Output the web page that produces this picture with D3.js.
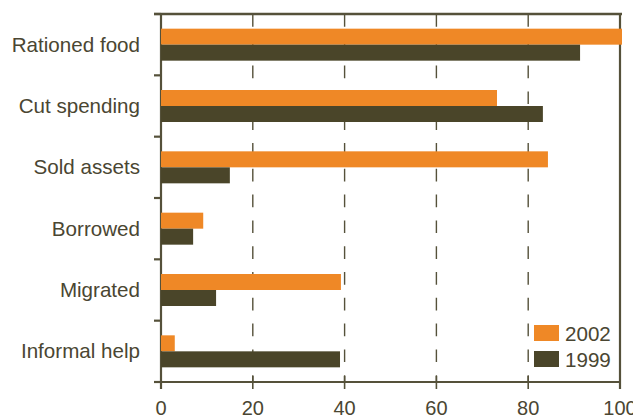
<!DOCTYPE html>
<html><head><meta charset="utf-8">
<script src="https://cdn.jsdelivr.net/npm/d3@7"></script>
<style>
body{margin:0;background:#fff;}
text{font-family:"Liberation Sans",Arial,sans-serif;fill:#4a4632;}
</style></head>
<body><svg id="c" width="633" height="419"></svg>
<script>
const categories = ["Rationed food","Cut spending","Sold assets","Borrowed","Migrated","Informal help"];
const series = ["2002","1999"];
const values2002 = [100, 73.2, 84.3, 9.2, 39.2, 3];
const values1999 = [91.3, 83.2, 15, 7, 12, 39];
const xTicks = [0,20,40,60,80,100];
const colors = {"2002":"#ef8826","1999":"#4a4529"};

const svg = d3.select("#c");
const L=161, R=620, T=14, B=382;
const frame = "#55513a";
const x = d3.scaleLinear().domain([0,100]).range([L,R]);
const y = d3.scaleBand().domain(categories).range([T,B]).padding(0);
const bw = y.bandwidth();
const sub = d3.scaleBand().domain(series).range([bw/2-16, bw/2+16]).padding(0);

// gridlines
svg.append("g").selectAll("line").data(xTicks.filter(d=>d>0&&d<100)).join("line")
  .attr("x1",d=>x(d)).attr("x2",d=>x(d)).attr("y1",T).attr("y2",B)
  .attr("stroke",frame).attr("stroke-width",1.4).attr("stroke-dasharray","12.7,13.1");
// bottom ticks
svg.append("g").selectAll("line").data(xTicks).join("line")
  .attr("x1",d=>x(d)).attr("x2",d=>x(d)).attr("y1",B-6).attr("y2",B+7)
  .attr("stroke",frame).attr("stroke-width",1.6);
// left ticks at boundaries
const bounds = categories.map(c=>y(c)).concat([B]);
svg.append("g").selectAll("line").data(bounds).join("line")
  .attr("x1",L-7).attr("x2",L).attr("y1",d=>d).attr("y2",d=>d)
  .attr("stroke",frame).attr("stroke-width",2.2);
// frame
svg.append("line").attr("x1",L-7).attr("x2",R+2).attr("y1",T).attr("y2",T).attr("stroke",frame).attr("stroke-width",2.4);
svg.append("line").attr("x1",L-7).attr("x2",R).attr("y1",B).attr("y2",B).attr("stroke",frame).attr("stroke-width",1.8);
svg.append("line").attr("x1",L).attr("x2",L).attr("y1",T).attr("y2",B+7).attr("stroke",frame).attr("stroke-width",2.2);
svg.append("line").attr("x1",R).attr("x2",R).attr("y1",T).attr("y2",B+7).attr("stroke",frame).attr("stroke-width",2.2);

// bars
const data = categories.map((c,i)=>({c, v:{"2002":values2002[i],"1999":values1999[i]}}));
const g = svg.append("g").selectAll("g").data(data).join("g").attr("transform",d=>`translate(0,${y(d.c)})`);
g.selectAll("rect").data(d=>series.map(s=>({s,v:d.v[s]}))).join("rect")
  .attr("x",x(0)).attr("y",d=>sub(d.s)).attr("height",sub.bandwidth())
  .attr("width",d=>x(d.v)-x(0)+(d.v>=100?2:0)).attr("fill",d=>colors[d.s]);

// category labels
svg.append("g").selectAll("text").data(categories).join("text")
  .attr("x",L-21).attr("y",d=>y(d)+bw/2+7).attr("text-anchor","end")
  .attr("font-size",20.6).text(d=>d);
// x tick labels
svg.append("g").selectAll("text").data(xTicks).join("text")
  .attr("x",d=>x(d)).attr("y",415).attr("text-anchor","middle")
  .attr("font-size",20).text(d=>d);

// legend
const lg = svg.append("g").selectAll("g").data(series).join("g")
  .attr("transform",(d,i)=>`translate(534,${325+i*26})`);
lg.append("rect").attr("width",25).attr("height",16).attr("fill",d=>colors[d]);
lg.append("text").attr("x",31).attr("y",16).attr("font-size",20.6).text(d=>d);
</script></body></html>
